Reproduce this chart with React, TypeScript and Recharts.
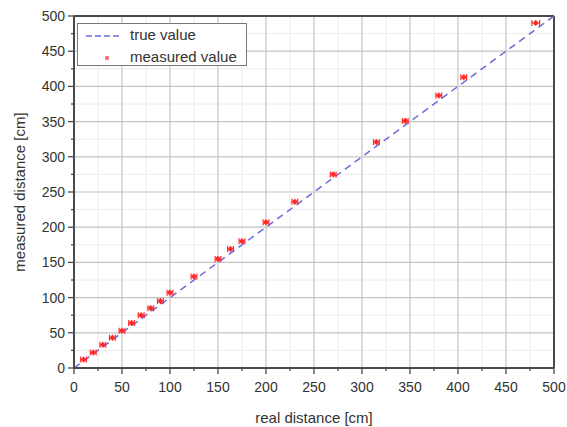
import React from 'react';
import {
  ComposedChart,
  Scatter,
  ErrorBar,
  XAxis,
  YAxis,
  CartesianGrid,
  ReferenceLine,
  Legend,
} from 'recharts';

// real distance [cm] vs measured distance [cm]
const realDist = [10, 20, 30, 40, 50, 60, 70, 80, 90, 100, 125, 150, 163, 175, 200, 230, 270, 315, 345, 380, 406, 481];
const measuredDist = [12, 22, 33, 43, 53, 64, 75, 85, 95, 107, 130, 155, 169, 180, 207, 236, 275, 321, 351, 387, 413, 490];
const realErr = [3, 3, 3, 3, 3, 3, 3, 3, 3, 3, 3, 3, 3, 3, 3, 3, 3, 3, 3, 3, 3, 4];

const allTicks = [0, 25, 50, 75, 100, 125, 150, 175, 200, 225, 250, 275, 300, 325, 350, 375, 400, 425, 450, 475, 500];
const majorTicks = [0, 50, 100, 150, 200, 250, 300, 350, 400, 450, 500];
const minorTicks = [25, 75, 125, 175, 225, 275, 325, 375, 425, 475];

const points = realDist.map((x, i) => ({ x, y: measuredDist[i], xerr: realErr[i] }));

const FONT = '"Liberation Sans", Arial, sans-serif';
const AXIS = '#4a4a4a';
const TEXT = '#333';
const RED = '#ff2a2a';

const YTick = ({ x, y, payload }: any) => {
  const major = payload.value % 50 === 0;
  return (
    <g>
      <line x1={x} x2={x - (major ? 6 : 3)} y1={y} y2={y} stroke={AXIS} strokeWidth={1.3} />
      {major && (
        <text x={x - 9} y={y} dy={5} textAnchor="end" fontSize={14} fill={TEXT} fontFamily={FONT}>
          {payload.value}
        </text>
      )}
    </g>
  );
};

const XTick = ({ x, y, payload }: any) => {
  const major = payload.value % 50 === 0;
  return (
    <g>
      <line x1={x} x2={x} y1={y} y2={y + (major ? 6 : 3)} stroke={AXIS} strokeWidth={1.3} />
      {major && (
        <text x={x} y={y} dy={24} textAnchor="middle" fontSize={14} fill={TEXT} fontFamily={FONT}>
          {payload.value}
        </text>
      )}
    </g>
  );
};

const Marker = ({ cx, cy }: any) => (
  <g>
    <circle cx={cx} cy={cy} r={2.3} fill={RED} />
    <line x1={cx} x2={cx} y1={cy - 3} y2={cy + 3} stroke={RED} strokeWidth={1.2} />
  </g>
);

const LegendBox = () => (
  <div
    style={{
      position: 'relative',
      width: 170,
      height: 43,
      boxSizing: 'border-box',
      border: '1px solid #777',
      background: '#fff',
      fontFamily: FONT,
      fontSize: 15,
      color: TEXT,
    }}
  >
    <svg width={40} height={40} style={{ position: 'absolute', left: 6, top: 0 }}>
      <line x1={2} x2={36} y1={12} y2={12} stroke="#6b6bdc" strokeWidth={1.5} strokeDasharray="6 3" />
      <circle cx={23} cy={34} r={2.2} fill="#ff7070" />
    </svg>
    <div style={{ position: 'absolute', left: 52, top: 2, lineHeight: '18px' }}>true value</div>
    <div style={{ position: 'absolute', left: 52, top: 24, lineHeight: '18px' }}>measured value</div>
  </div>
);

export default function App() {
  return (
    <div style={{ position: 'absolute', left: 0, top: 0, background: '#fff' }}>
      <ComposedChart width={567} height={427} margin={{ top: 16, right: 13, bottom: 0, left: 0 }}>
        <CartesianGrid
          stroke="#ececec"
          strokeWidth={1}
          horizontalValues={minorTicks}
          verticalValues={minorTicks}
        />
        <CartesianGrid
          stroke="#c4c4c4"
          strokeWidth={1.2}
          horizontalValues={majorTicks}
          verticalValues={majorTicks}
        />
        <XAxis
          type="number"
          dataKey="x"
          domain={[0, 500]}
          ticks={allTicks}
          interval={0}
          height={59}
          tickSize={0}
          tickMargin={0}
          tickLine={false}
          tick={<XTick />}
          axisLine={{ stroke: AXIS, strokeWidth: 2 }}
          allowDataOverflow
          label={{
            value: 'real distance [cm]',
            position: 'insideBottom',
            offset: 4,
            style: { fontSize: 15, fill: TEXT, fontFamily: FONT },
          }}
        />
        <YAxis
          type="number"
          dataKey="y"
          domain={[0, 500]}
          ticks={allTicks}
          interval={0}
          width={74}
          tickSize={0}
          tickMargin={0}
          tickLine={false}
          tick={<YTick />}
          axisLine={{ stroke: AXIS, strokeWidth: 2 }}
          allowDataOverflow
          label={{
            value: 'measured distance [cm]',
            angle: -90,
            position: 'insideLeft',
            offset: 20,
            style: { fontSize: 15, fill: TEXT, fontFamily: FONT, textAnchor: 'middle' },
          }}
        />
        <ReferenceLine y={500} stroke={AXIS} strokeWidth={2} />
        <ReferenceLine x={500} stroke={AXIS} strokeWidth={2} />
        <ReferenceLine
          segment={[{ x: 0, y: 0 }, { x: 500, y: 500 }]}
          stroke="#6b6bdc"
          strokeWidth={1.5}
          strokeDasharray="7 5"
        />
        <Scatter data={points} shape={<Marker />} isAnimationActive={false}>
          <ErrorBar dataKey="xerr" direction="x" width={3} stroke={RED} strokeWidth={1.2} isAnimationActive={false} />
        </Scatter>
        <Legend
          verticalAlign="middle"
          layout="horizontal"
          wrapperStyle={{ left: 77, top: 23, width: 170, height: 43 }}
          content={<LegendBox />}
        />
      </ComposedChart>
    </div>
  );
}
